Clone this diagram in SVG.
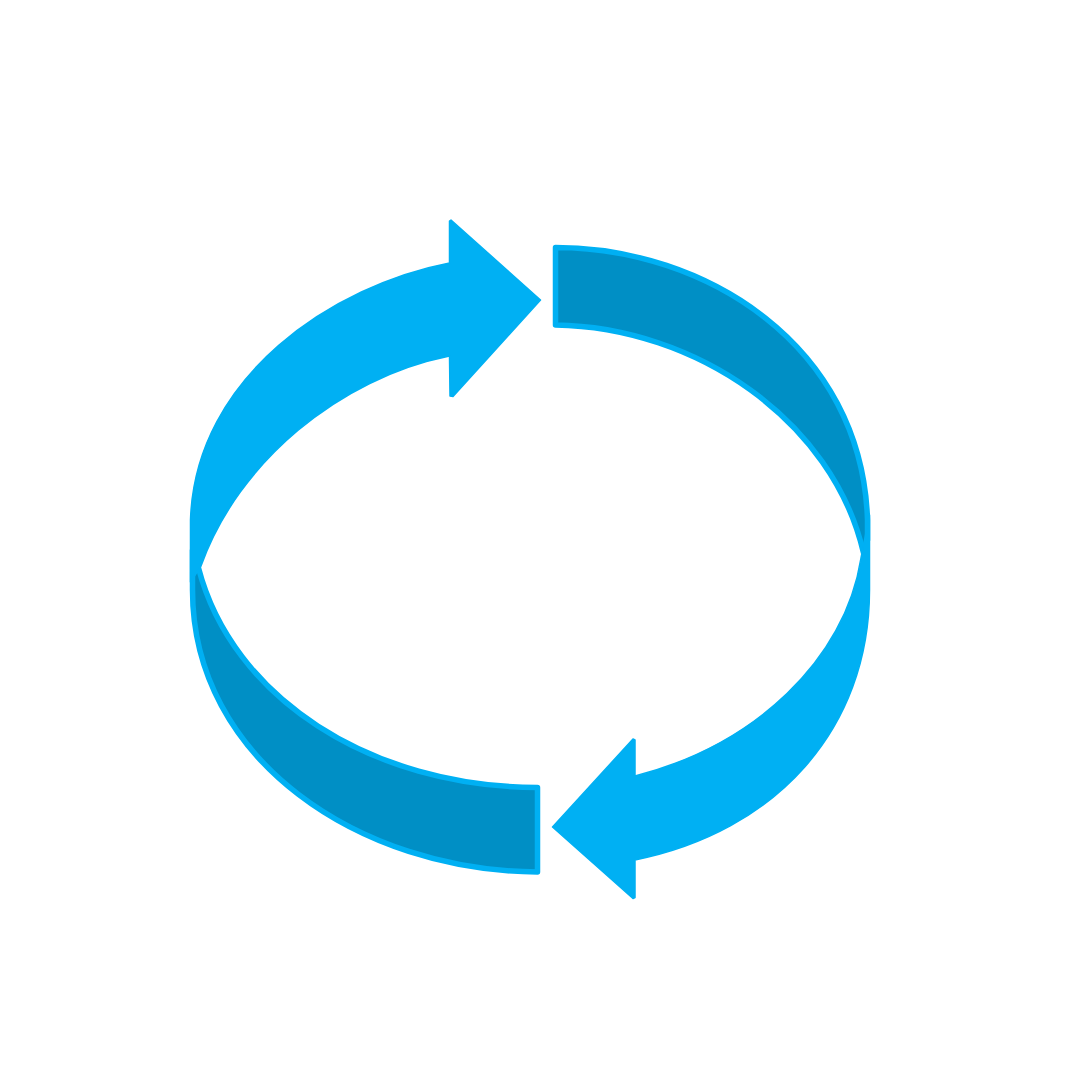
<svg xmlns="http://www.w3.org/2000/svg" width="1080" height="1080" viewBox="0 0 1080 1080">
<style>
.arrow{fill:#00b0f3;stroke:#00b0f3;stroke-width:1.500;stroke-linejoin:round}
.band{fill:#008fc5;stroke:#00b0f3;stroke-width:5.500;stroke-linejoin:round}
</style>
<rect width="1080" height="1080" fill="#ffffff"/>
<g id="band-top-right">
<path class="band" d="M555.500 247.500C705 247.500 862 345 867.500 520L867.500 540L863.500 553C833 420 695 327 555.500 325Z"/>
</g>
<g id="band-bottom-left">
<path class="band" d="M192.500 550L192.500 590C192.500 760 360 871 537.500 872L537.500 787.500C370 787 232 697 198.500 568Z"/>
</g>
<g id="arrow-top-left">
<path class="arrow" d="M451 220L540.500 300L453 396.500L450 396L449.500 356C340 378 238 462 201 566L190.500 582L190.500 520C195 375 335 285 449.500 263L449.500 221Z"/>
</g>
<g id="arrow-bottom-right">
<path class="arrow" d="M633 739L552.500 827L633 898.500L635 897.500L635 860C775 832 869.500 730 869.500 590L869.500 515L861 558C845 660 755 745 635 776L635 740Z"/>
</g>
</svg>
